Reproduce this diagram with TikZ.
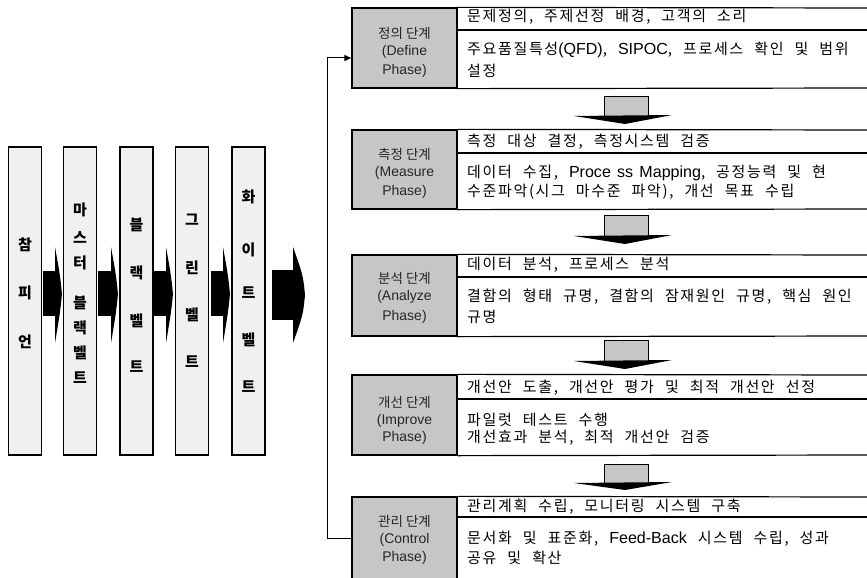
\documentclass[tikz,border=0pt]{standalone}
\usepackage{fontspec}
\setmainfont{Noto Sans CJK KR}
\newfontfamily\krsp[LetterSpace=11, WordSpace=2.2]{Noto Sans CJK KR}
\newfontfamily\lat[WordSpace=1.4]{Liberation Sans}
\newfontfamily\latr[Scale=1.07, WordSpace=1.4]{Liberation Sans}
\usetikzlibrary{arrows.meta}
\begin{document}
\begin{tikzpicture}[x=1pt,y=-1pt,
  colbox/.style={draw, line width=1.6pt, fill=gray!12, minimum width=33pt, minimum height=308pt, inner sep=0pt},
  colch/.style={font=\fontsize{15}{15}\selectfont\bfseries, inner sep=0pt},
  phasebox/.style={draw, line width=1.3pt, fill=gray!45, minimum width=105pt, inner sep=0pt},
  phtxt/.style={font=\fontsize{13.5}{13.5}\selectfont, inner sep=0pt, text=black!85},
  phlat/.style={font=\lat\fontsize{14}{14}\selectfont, inner sep=0pt, text=black!85},
  rowtxt/.style={font=\krsp\fontsize{15}{15}\selectfont, anchor=west, inner sep=0pt},
  rule/.style={line width=1.2pt},
  blk/.style={fill=black},
  dnbody/.style={draw, line width=1pt, fill=gray!45},
  fb/.style={line width=1pt, -{Triangle[length=7pt,width=6pt]}}
]
\useasboundingbox (0,0) rectangle (867,578);

% ---- belt columns ----
\node[colbox] (c1) at (25,301) {};
\node[colbox] (c2) at (80,301) {};
\node[colbox] (c3) at (136.5,301) {};
\node[colbox] (c4) at (192,301) {};
\node[colbox] (c5) at (248.5,301) {};

\node[colch] (c1a) at (25,245) {참};
\node[colch] (c1b) at (25,293) {피};
\node[colch] (c1c) at (25,342) {언};

\node[colch] (c2a) at (80,210) {마};
\node[colch] (c2b) at (80,238) {스};
\node[colch] (c2c) at (80,263) {터};
\node[colch] (c2d) at (80,303) {블};
\node[colch] (c2e) at (80,328) {랙};
\node[colch] (c2f) at (80,353) {벨};
\node[colch] (c2g) at (80,378) {트};

\node[colch] (c3a) at (136.5,225) {블};
\node[colch] (c3b) at (136.5,273) {랙};
\node[colch] (c3c) at (136.5,321) {벨};
\node[colch] (c3d) at (136.5,367) {트};

\node[colch] (c4a) at (192,220) {그};
\node[colch] (c4b) at (192,268) {린};
\node[colch] (c4c) at (192,315) {벨};
\node[colch] (c4d) at (192,362) {트};

\node[colch] (c5a) at (248.5,197) {화};
\node[colch] (c5b) at (248.5,250) {이};
\node[colch] (c5c) at (248.5,293) {트};
\node[colch] (c5d) at (248.5,340) {벨};
\node[colch] (c5e) at (248.5,387) {트};

% ---- block arrows between columns ----
\newcommand\blockarr[3]{%
  \fill[blk] (#1,271) rectangle (#2,316);
  \fill[blk] (#2-1,247) .. controls (#3-2,275) .. (#3,294) .. controls (#3-2,313) .. (#2-1,343) -- cycle;}
\blockarr{43}{56}{62}
\blockarr{98}{112}{118}
\blockarr{154}{167}{173}
\blockarr{211}{224}{230}
\fill[blk] (272,270) rectangle (295,320);
\fill[blk] (293,247) .. controls (303,275) .. (305,295) .. controls (303,315) .. (293,343) -- cycle;

% ---- phase boxes ----
\newcommand\phase[9]{%
  \node[phasebox, minimum height={#4-#2}] (#1) at (404.5,{(#2+#4)/2}) {};
  \draw[rule] (#1.north east) -- (867,#2);
  \draw[rule] (457,#3) -- (867,#3);
  \draw[rule] (#1.south east) -- (867,#4);
  \node[rowtxt] (#1ra) at (467,#6) {#7};
  \node[phtxt] (#1t1) at (404.5,#5) {#8};
  \node[phlat] (#1t2) at (404.5,#5+19) {(#9};
}
\phase{g1}{8}{30}{88}{33}{17}{문제정의, 주제선정 배경, 고객의 소리}{정의 단계}{Define}
\node[phlat] (g1t3) at (404.5,71) {Phase)};
\node[rowtxt] (g1rb) at (467,50) {주요품질특성{\latr(QFD)}, {\latr SIPOC}, 프로세스 확인 및 범위};
\node[rowtxt] (g1rc) at (467,71) {설정};

\phase{g2}{130}{153}{209}{154}{142}{측정 대상 결정, 측정시스템 검증}{측정 단계}{Measure}
\node[phlat] (g2t3) at (404.5,192) {Phase)};
\node[rowtxt] (g2rb) at (467,173) {데이터 수집, {\latr Proce ss Mapping}, 공정능력 및 현};
\node[rowtxt] (g2rc) at (467,192) {수준파악(시그 마수준 파악), 개선 목표 수립};

\phase{g3}{255}{277}{336}{278}{265}{데이터 분석, 프로세스 분석}{분석 단계}{Analyze}
\node[phlat] (g3t3) at (404.5,317) {Phase)};
\node[rowtxt] (g3rb) at (467,297) {결함의 형태 규명, 결함의 잠재원인 규명, 핵심 원인};
\node[rowtxt] (g3rc) at (467,317) {규명};

\phase{g4}{375}{399}{455}{402}{388}{개선안 도출, 개선안 평가 및 최적 개선안 선정}{개선 단계}{Improve}
\node[phlat] (g4t3) at (404.5,438) {Phase)};
\node[rowtxt] (g4rb) at (467,420) {파일럿 테스트 수행};
\node[rowtxt] (g4rc) at (467,438) {개선효과 분석, 최적 개선안 검증};

\phase{g5}{497}{517}{580}{521}{507}{관리계획 수립, 모니터링 시스템 구축}{관리 단계}{Control}
\node[phlat] (g5t3) at (404.5,558) {Phase)};
\node[rowtxt] (g5rb) at (467,539) {문서화 및 표준화, {\latr Feed-Back} 시스템 수립, 성과};
\node[rowtxt] (g5rc) at (467,558) {공유 및 확산};

% ---- down arrows ----
\newcommand\dnarr[3]{%
  \draw[dnbody] (604,#1) rectangle (648,#2);
  \fill[blk] (574,#2) -- (672,#2-1) -- (625,#3) -- cycle;}
\dnarr{96}{116}{124}
\dnarr{215}{236}{244}
\dnarr{340}{361}{369}
\dnarr{464}{483}{490}

% ---- feedback connector ----
\coordinate (fbl) at (327,538);
\draw[fb] (g5.west |- fbl) -- (fbl) |- ([yshift=-10pt]g1.west);
\end{tikzpicture}
\end{document}
